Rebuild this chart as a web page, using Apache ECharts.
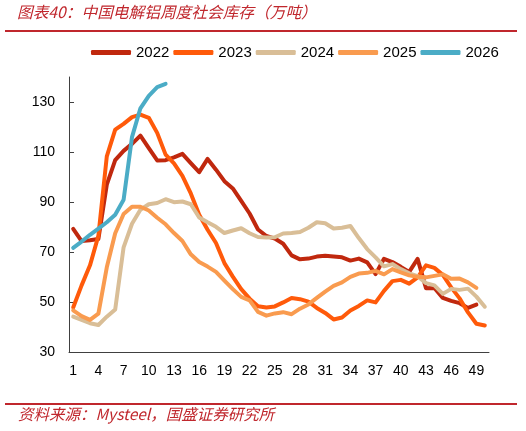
<!DOCTYPE html>
<html>
<head>
<meta charset="utf-8">
<script src="https://cdn.jsdelivr.net/npm/echarts@6/dist/echarts.min.js"></script>
<style>
  html, body { margin: 0; padding: 0; background: #fff; }
  #chart { width: 526px; height: 431px; }
</style>
</head>
<body>
<div id="chart"></div>
<script>
  "use strict";

  // weekly social inventory of electrolytic aluminium in China, 10k tonnes
  var weeks = [];
  for(var w = 1; w <= 50; w++) {
    weeks.push(String(w));
  }

  var yearNames = ["2022", "2023", "2024", "2025", "2026"];

  var data2022 = [79.4, 74.5, 74.8, 75.3, 97, 106.8, 110.5, 113.3, 116.6, 111.6,
    106.7, 106.8, 107.9, 109.3, 105.6, 102, 107.3, 103, 98.4, 95.5,
    90.5, 85.5, 79.1, 76.5, 75.5, 73.4, 68.8, 67.2, 67.5, 68.3,
    68.6, 68.3, 68, 66.7, 67.5, 66, 61.3, 67.4, 66.1, 64.2,
    62.2, 67.4, 55.7, 55.8, 51.8, 50.6, 49.7, 47.8, 49.1];

  var data2023 = [48, 56.8, 64.8, 76.6, 108.3, 119, 121.3, 124, 125, 123.7,
    117.7, 109, 105.5, 100.5, 93.5, 85, 79, 73.7, 65.7, 60.3,
    55.3, 51.5, 48.5, 48, 48.4, 50, 51.8, 51.3, 50.3, 47.8,
    45.8, 43.2, 44, 46.8, 48.6, 50.8, 50, 54.6, 58.5, 59,
    57.5, 60, 64.8, 63.8, 61, 56, 51.6, 46, 41.5, 40.8];

  var data2024 = [44.3, 43, 41.7, 41, 44.3, 47.2, 72, 81.4, 87, 89.2,
    89.7, 91.2, 90, 90.3, 89.2, 83.9, 82, 80.2, 77.7, 78.7,
    79.6, 77.6, 76.1, 75.9, 76, 77.5, 77.7, 78.1, 79.8, 82,
    81.6, 79.5, 79.8, 80.5, 75.7, 71.3, 68, 64.4, 65.3, 63.3,
    61.6, 60.5, 57.7, 56.8, 53.4, 55.4, 55, 55.5, 52.3, 48.3];

  var data2025 = [46.8, 44.5, 43, 45.5, 64, 77.6, 85.3, 88.2, 88.2, 86.7,
    83.8, 81.2, 77.7, 74.5, 69.2, 66.1, 64.3, 62.2, 58.7, 55.3,
    52.2, 50.8, 46.2, 44.7, 45.6, 46.1, 45.3, 47.5, 49.2, 51.8,
    54.3, 56.6, 58, 60.2, 61.5, 61.8, 62.6, 61.2, 63.3, 62,
    60.8, 60.2, 60, 60.6, 61.2, 59.4, 59.5, 58, 55.8];

  var data2026 = [71.8, 74.3, 77, 79.5, 82, 85, 91, 116, 127.5, 132.5, 136, 137.3];

  var yearData = [data2022, data2023, data2024, data2025, data2026];
  var yearColors = ["#C0280E", "#FF5A0A", "#D9BE97", "#F99B4F", "#4BACC6"];

  var titleText = "图表40：中国电解铝周度社会库存（万吨）";
  var sourceText = "资料来源：Mysteel，国盛证券研究所";

  var numFont = "Liberation Sans";
  var cjkFont = "Noto Sans CJK SC";

  function buildSeries() {
    return yearNames.map(function(name, i) {
      return {
        name: name,
        type: "line",
        data: yearData[i],
        symbol: "none",
        smooth: false,
        lineStyle: {
          width: 4,
          color: yearColors[i],
          cap: "round",
          join: "round"
        },
        itemStyle: { color: yearColors[i] },
        emphasis: { disabled: true },
        z: 2 + i
      };
    });
  }

  var myChart = echarts.init(document.getElementById("chart"), null, {renderer: "canvas"});

  var options = {
    animation: false,
    backgroundColor: "#fff",
    grid: {
      left: 69,
      right: 37,
      top: 77,
      bottom: 78.5,
      containLabel: false
    },
    legend: {
      data: yearNames,
      left: 91,
      top: 45,
      width: 440,
      padding: 0,
      itemWidth: 40,
      itemHeight: 5,
      itemGap: 4,
      icon: "roundRect",
      textStyle: {
        fontFamily: numFont,
        fontSize: 15,
        color: "#000"
      }
    },
    xAxis: {
      type: "category",
      data: weeks,
      boundaryGap: true,
      axisLine: { lineStyle: { color: "#404040", width: 1 } },
      axisTick: { inside: true, length: 5, interval: 2, lineStyle: { color: "#404040" } },
      axisLabel: {
        interval: 2,
        margin: 12,
        fontFamily: numFont,
        fontSize: 14,
        color: "#000"
      },
      splitLine: { show: false }
    },
    yAxis: {
      type: "value",
      min: 30,
      max: 140,
      interval: 20,
      axisLine: { show: true, lineStyle: { color: "#404040", width: 1 } },
      axisTick: { show: true, inside: true, length: 5, lineStyle: { color: "#404040" } },
      axisLabel: {
        margin: 14,
        showMaxLabel: false,
        fontFamily: numFont,
        fontSize: 14,
        color: "#000"
      },
      splitLine: { show: false }
    },
    graphic: [
      {
        type: "text",
        left: 17,
        top: 4,
        style: {
          text: titleText,
          fontFamily: cjkFont,
          fontStyle: "italic",
          fontSize: 15.7,
          fill: "#C0272D"
        }
      },
      {
        type: "rect",
        shape: { x: 5, y: 30, width: 512, height: 2 },
        style: { fill: "#C0272D" }
      },
      {
        type: "rect",
        shape: { x: 5, y: 403, width: 512, height: 2 },
        style: { fill: "#C0272D" }
      },
      {
        type: "text",
        left: 18,
        top: 406,
        style: {
          text: sourceText,
          fontFamily: cjkFont,
          fontStyle: "italic",
          fontSize: 15.5,
          fill: "#C0272D"
        }
      }
    ],
    series: buildSeries()
  };

  myChart.setOption(options);
</script>
</body>
</html>
